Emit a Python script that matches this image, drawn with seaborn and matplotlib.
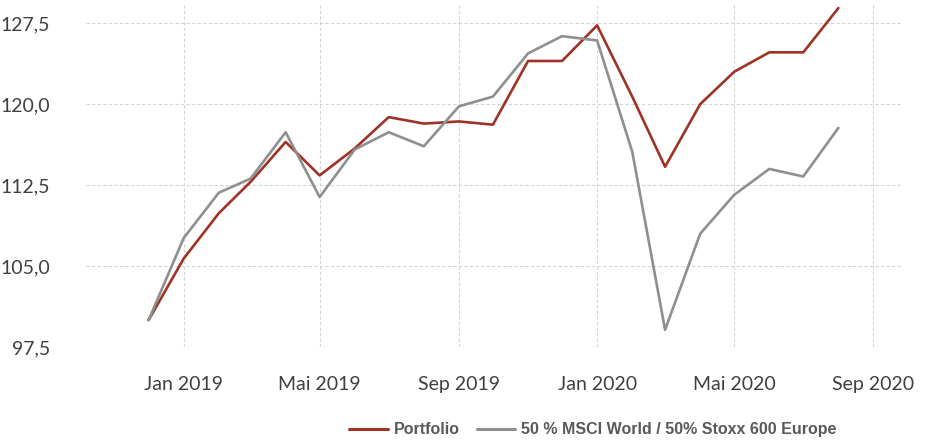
import pandas as pd
import matplotlib
matplotlib.use("Agg")
import matplotlib.pyplot as plt
import seaborn as sns

# monthly values, Dez 2018 - Aug 2020
months = pd.date_range("2018-12-01", "2020-08-01", freq="MS")
portfolio = [100.0, 105.7, 109.9, 112.8, 116.5, 113.4, 115.9, 118.8, 118.2, 118.4,
             118.1, 124.0, 124.0, 127.3, 120.7, 114.2, 120.0, 123.0, 124.8, 124.8, 128.9]
benchmark = [100.0, 107.6, 111.8, 113.1, 117.4, 111.4, 115.8, 117.4, 116.1, 119.8,
             120.7, 124.7, 126.3, 125.9, 115.6, 99.1, 108.0, 111.6, 114.0, 113.3, 117.8]
names = ["Portfolio", "50 % MSCI World / 50% Stoxx 600 Europe"]
colors = ["#9e3325", "#8f8f8f"]

tick_dates = pd.to_datetime(["2019-01-01", "2019-05-01", "2019-09-01",
                             "2020-01-01", "2020-05-01", "2020-09-01"])
tick_labels = ["Jan 2019", "Mai 2019", "Sep 2019", "Jan 2020", "Mai 2020", "Sep 2020"]
y_ticks = [97.5, 105.0, 112.5, 120.0, 127.5]

df = pd.DataFrame({"Datum": list(months) * 2,
                   "Wert": portfolio + benchmark,
                   "Serie": [names[0]] * len(months) + [names[1]] * len(months)})

sns.set_style("white")
plt.rcParams["font.family"] = ["Lato", "DejaVu Sans"]

fig = plt.figure(figsize=(9.28, 4.41), dpi=100)
ax = fig.add_axes([0.093, 0.213, 0.88, 0.776])

sns.lineplot(data=df, x="Datum", y="Wert", hue="Serie", palette=colors,
             hue_order=names, linewidth=1.9, ax=ax, legend=False)

ax.set_xlim(pd.Timestamp("2018-10-07"), pd.Timestamp("2020-09-27"))
ax.set_ylim(97.5, 129.2)
ax.set_xticks(tick_dates)
ax.set_xticklabels(tick_labels)
ax.set_yticks(y_ticks)
ax.set_yticklabels([f"{v:.1f}".replace(".", ",") for v in y_ticks])
ax.tick_params(axis="both", length=0, labelsize=14, labelcolor="#404040")
ax.tick_params(axis="x", pad=21)
ax.tick_params(axis="y", pad=26)
ax.set_xlabel("")
ax.set_ylabel("")
ax.grid(True, linestyle=(0, (3, 2)), color="#d4d4d4", linewidth=0.8)
for s in ax.spines.values():
    s.set_visible(False)

handles = [plt.Line2D([], [], color=c, linewidth=2.2) for c in colors]
leg = fig.legend(handles, names, loc="center", bbox_to_anchor=(0.639, 0.025),
                 ncol=2, frameon=False, handlelength=2.4, columnspacing=1.1,
                 handletextpad=0.37,
                 prop={"family": "Liberation Sans", "weight": "bold", "size": 11.5})
for t in leg.get_texts():
    t.set_color("#595959")

fig.savefig("out.png", dpi=100)
